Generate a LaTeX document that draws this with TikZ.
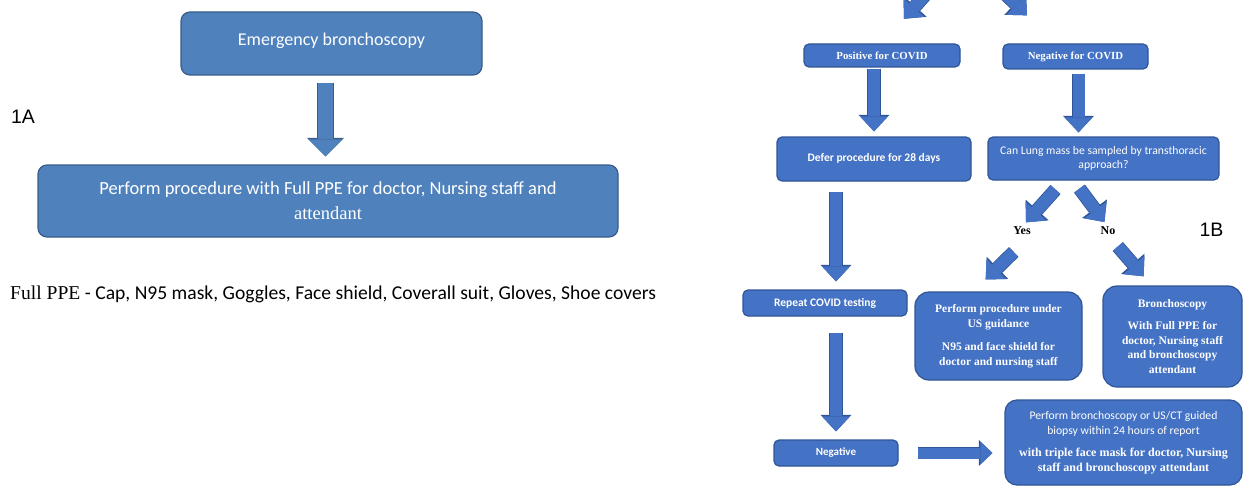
\documentclass[tikz,border=0pt]{standalone}
\usepackage{fontspec}
\usepackage{tikz}
\usetikzlibrary{calc,positioning,arrows.meta}
\newfontfamily\boxsans{Carlito}
\newfontfamily\boxserif{Liberation Serif}
\newfontfamily\panelfont{Liberation Sans}
\definecolor{LeftFill}{HTML}{4F81BD}
\definecolor{LeftLine}{HTML}{385D8A}
\definecolor{RightFill}{HTML}{4472C4}
\definecolor{RightLine}{HTML}{2F5597}
\newcommand{\tripfont}{\boxserif\bfseries\fontsize{12}{14.5}\selectfont}

\tikzstyle{box}        = [rectangle, draw, line width=1.2pt, text=white, align=center, inner sep=0pt]
\tikzstyle{LEFT_BOX}   = [box, fill=LeftFill, draw=LeftLine, rounded corners=9pt, font=\boxsans\fontsize{18.5}{25}\selectfont]
\tikzstyle{RIGHT_BOX}  = [box, fill=RightFill, draw=RightLine, rounded corners=5pt]
\tikzstyle{big_box}    = [RIGHT_BOX, rounded corners=14pt]
\tikzstyle{sans_txt}   = [font=\boxsans\fontsize{11.7}{14.5}\selectfont]
\tikzstyle{sansb_txt}  = [font=\boxsans\bfseries\fontsize{11.5}{14.5}\selectfont]
\tikzstyle{serif_txt}  = [font=\boxserif\bfseries\fontsize{11.5}{14.5}\selectfont]
\tikzstyle{answer}     = [inner sep=0pt, font=\boxserif\bfseries\fontsize{12}{14}\selectfont]
\tikzstyle{panel}      = [inner sep=0pt, font=\panelfont\fontsize{19.5}{22}\selectfont]
\tikzstyle{fat}        = [draw=RightFill, line width=12pt, -{Triangle[length=15pt,width=28pt,line width=0pt]},
                          preaction={draw=RightLine, line width=13.6pt, -{Triangle[length=16.6pt,width=31pt,line width=0pt]}}]
\tikzstyle{fat_small}  = [draw=RightFill, line width=11pt, -{Triangle[length=12pt,width=23pt,line width=0pt]},
                          preaction={draw=RightLine, line width=12.6pt, -{Triangle[length=13.6pt,width=26pt,line width=0pt]}}]
\tikzstyle{bigarrow}   = [draw=LeftFill, line width=15pt, -{Triangle[length=17pt,width=34pt,line width=0pt]},
                          preaction={draw=LeftLine, line width=16.6pt, -{Triangle[length=18.6pt,width=37pt,line width=0pt]}}]

\begin{document}
\begin{tikzpicture}[x=1pt, y=-1pt]
  \useasboundingbox (0,0) rectangle (1243,487);
  \clip (0,0) rectangle (1243,487);

  % 1A
  \node[LEFT_BOX, font=\boxsans\fontsize{18}{25}\selectfont, minimum width=301pt, minimum height=63pt] (emerg) at (331.5,43.5) {\raisebox{8pt}{Emergency bronchoscopy}};
  \node[LEFT_BOX, minimum width=580pt, minimum height=72pt] (fullppe) at (328,201) {Perform procedure with Full PPE for doctor, Nursing staff and\\\boxserif attendant};
  \node[panel] (labA) at (23,117) {1A};
  \node[anchor=west, inner sep=0pt, font=\boxsans\fontsize{19.6}{22}\selectfont] (ppenote) at (10,294) {{\boxserif Full PPE} - Cap, N95 mask, Goggles, Face shield, Coverall suit, Gloves, Shoe covers};

  \draw[bigarrow, shorten <=7pt, shorten >=8pt] ([xshift=-6pt]emerg.south) -- ([xshift=-6pt]emerg.south |- fullppe.north);

  % 1B
  \node[RIGHT_BOX, font=\boxserif\bfseries\fontsize{10.8}{13}\selectfont, minimum width=156pt, minimum height=23pt] (pos) at (882,55.5) {Positive for COVID};
  \node[RIGHT_BOX, font=\boxserif\bfseries\fontsize{10.8}{13}\selectfont, minimum width=145pt, minimum height=25pt] (neg) at (1075.5,56.5) {Negative for COVID};
  \node[RIGHT_BOX, sansb_txt, minimum width=194pt, minimum height=44pt] (defer) at (874,159) {\raisebox{3pt}{Defer procedure for 28 days}};
  \node[RIGHT_BOX, sans_txt, minimum width=231pt, minimum height=43pt] (canlung) at (1103.5,158.5) {Can Lung mass be sampled by transthoracic\\approach?};
  \node[answer] (yes) at (1022,231) {Yes};
  \node[answer] (no) at (1108,231) {No};
  \node[panel] (labB) at (1211.5,230) {1B};
  \node[RIGHT_BOX, sansb_txt, minimum width=164pt, minimum height=26pt] (repeat) at (825,303) {Repeat COVID testing};
  \node[big_box, serif_txt, minimum width=167pt, minimum height=88pt] (usguide) at (998.5,336) {Perform procedure under\\US guidance\\[9pt]N95 and face shield for\\doctor and nursing staff};
  \node[big_box, serif_txt, minimum width=139pt, minimum height=101pt] (broncho) at (1172.5,336.5) {Bronchoscopy\\[8pt]With Full PPE for\\doctor, Nursing staff\\and bronchoscopy\\attendant};
  \node[RIGHT_BOX, sansb_txt, font=\boxsans\bfseries\fontsize{11}{14.5}\selectfont, minimum width=124pt, minimum height=26pt] (negbox) at (836,453) {Negative};
  \node[big_box, sans_txt, rounded corners=12pt, minimum width=237pt, minimum height=85pt] (final) at (1123.5,442.5) {Perform bronchoscopy or US/CT guided\\biopsy within 24 hours of report\\[8pt]\tripfont with triple face mask for doctor, Nursing\\\tripfont staff and bronchoscopy attendant};

  \coordinate (inL) at (944,-26);
  \coordinate (inR) at (990,-21);

  \draw[fat, shorten >=33pt] (inL) -- (pos.north);
  \draw[fat, shorten >=40pt] (inR) -- ([xshift=-20pt]neg.north);
  \draw[fat, shorten <=1pt, shorten >=5pt] (pos.south -| defer.north) -- (defer.north);
  \draw[fat, shorten <=4pt, shorten >=4pt] ([xshift=3pt]neg.south) -- ([xshift=3pt]neg.south |- canlung.north);
  \draw[fat, shorten <=12pt, shorten >=6pt] ([xshift=-40pt]canlung.south) -- (yes.north);
  \draw[fat, shorten <=10pt, shorten >=6pt] ([xshift=-30pt]canlung.south) -- (no.north);
  \draw[fat, shorten <=24pt, shorten >=17pt] (yes.south east) -- ([xshift=-25pt]usguide.north);
  \draw[fat, shorten <=15pt, shorten >=12pt] (no.south) -- ([xshift=-21pt]broncho.north);
  \draw[fat, shorten <=10pt, shorten >=8pt] (defer.south -| negbox.north) -- (repeat.north -| negbox.north);
  \draw[fat, shorten <=16pt, shorten >=8pt] (repeat.south -| negbox.north) -- (negbox.north);
  \draw[fat_small, shorten <=19pt, shorten >=12pt] (negbox.east) -- (negbox.east -| final.west);
\end{tikzpicture}
\end{document}
